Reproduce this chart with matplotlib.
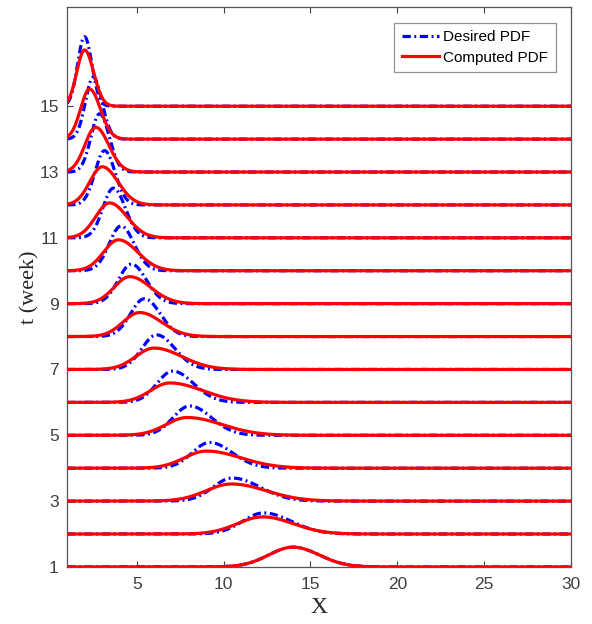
import matplotlib.pyplot as plt
import numpy as np

# weekly PDFs, stacked on the week axis: peak location, peak height,
# left/right spread of each bump
weeks = np.arange(1, 16)

comp_mode = [14.0, 12.25, 10.45, 9.0, 7.9, 6.9, 6.0, 5.17, 4.6, 3.95, 3.44, 3.02, 2.64, 2.29, 2.0]
comp_peak = [0.60, 0.52, 0.52, 0.52, 0.54, 0.59, 0.65, 0.73, 0.82, 0.94, 1.06, 1.16, 1.36, 1.52, 1.71]
comp_sl = [1.4, 1.45, 1.45, 1.25, 1.2, 1.1, 1.05, 0.95, 0.9, 0.85, 0.8, 0.72, 0.62, 0.52, 0.45]
comp_sr = [1.5, 1.75, 2.0, 2.0, 2.0, 1.9, 1.6, 1.25, 1.2, 1.1, 1.0, 0.9, 0.75, 0.62, 0.52]

des_mode = [14.0, 12.3, 10.5, 9.2, 8.05, 7.07, 6.15, 5.45, 4.7, 4.1, 3.66, 3.15, 2.87, 2.5, 2.0]
des_peak = [0.60, 0.64, 0.70, 0.78, 0.89, 0.95, 1.05, 1.15, 1.2, 1.36, 1.51, 1.65, 1.77, 1.88, 2.11]
des_sl = [1.4, 1.2, 1.1, 1.0, 0.95, 0.9, 0.85, 0.8, 0.75, 0.68, 0.6, 0.55, 0.5, 0.45, 0.4]
des_sr = [1.5, 1.6, 1.6, 1.3, 1.25, 1.2, 1.05, 0.9, 0.85, 0.75, 0.68, 0.6, 0.55, 0.5, 0.42]

xticks = [5, 10, 15, 20, 25, 30]
yticks = [1, 3, 5, 7, 9, 11, 13, 15]


def bump(x, m, h, sl, sr):
    s = np.where(x < m, sl, sr)
    return h * np.exp(-0.5 * ((x - m) / s) ** 2)


x = np.linspace(1, 30, 1500)

fig = plt.figure(figsize=(5.92, 6.24), dpi=100)
ax = fig.add_axes([0.1135, 0.0915, 0.851, 0.8965])

for i, t in enumerate(weeks):
    yd = t + bump(x, des_mode[i], des_peak[i], des_sl[i], des_sr[i])
    yc = t + bump(x, comp_mode[i], comp_peak[i], comp_sl[i], comp_sr[i])
    ax.plot(x, yd, color='#0000ff', lw=2.3, ls=(0, (2.6, 1.1, 0.6, 1.1)),
            label='Desired PDF' if i == 0 else None, zorder=2)
    ax.plot(x, yc, color='#ff0000', lw=2.3,
            label='Computed PDF' if i == 0 else None, zorder=3)

ax.set_xlim(1, 30)
ax.set_ylim(1, 18)
ax.set_xticks(xticks)
ax.set_yticks(yticks)
ax.tick_params(direction='in', top=True, right=True, length=4, width=0.8,
               colors='#404040', labelsize=12.5)
ax.tick_params(axis='x', pad=7)
ax.tick_params(axis='y', pad=6)
for lab in ax.get_xticklabels() + ax.get_yticklabels():
    lab.set_family('Liberation Sans')
for sp in ax.spines.values():
    sp.set_color('#555555')
    sp.set_linewidth(0.9)

ax.set_xlabel('X', fontsize=17, family='Liberation Serif', color='#262626', labelpad=4)
ax.set_ylabel('t (week)', fontsize=16, family='Liberation Serif', color='#262626', labelpad=0)

leg = ax.legend(loc='upper right', prop={'family': 'Liberation Sans', 'size': 11},
                fancybox=False, handlelength=2.4, borderaxespad=1.0,
                handletextpad=0.3, borderpad=0.5, labelspacing=0.4)
leg.get_frame().set_edgecolor('#777777')
leg.get_frame().set_linewidth(0.9)

fig.savefig('out.png', dpi=100)
